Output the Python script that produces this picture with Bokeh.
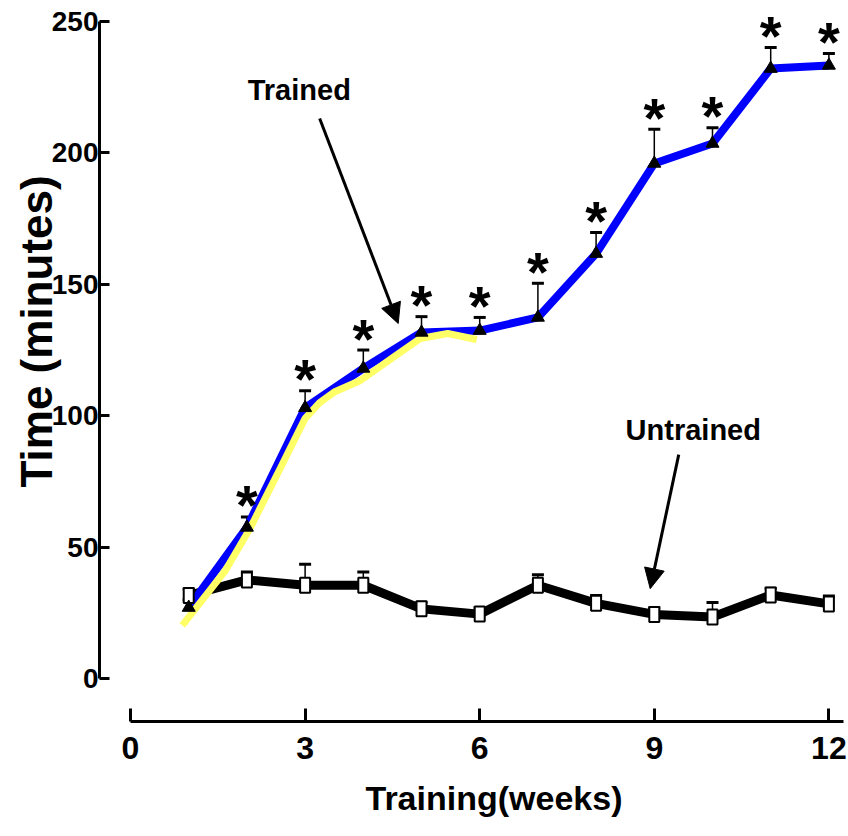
from bokeh.plotting import figure
from bokeh.models import (ColumnDataSource, Range1d, FixedTicker, Whisker, TeeHead,
                          Arrow, NormalHead, Label, Title)
from bokeh.core.properties import value
from bokeh.embed import file_html
from bokeh.resources import INLINE

# ---- data ----
weeks = [1, 2, 3, 4, 5, 6, 7, 8, 9, 10, 11, 12]
trained_mean = [27, 57.5, 103, 118, 131.7, 132.4, 137.4, 161.7, 196, 203.6, 232.1, 233.3]
trained_err = [3, 4, 6.5, 7, 6, 5, 13, 8, 13, 6, 8, 4.5]
trained_marks = ["", "*", "*", "*", "*", "*", "*", "*", "*", "*", "*", "*"]
untrained_mean = [31.6, 37.5, 35.5, 35.5, 26.5, 24.5, 35.5, 28.6, 24.4, 23.4, 31.8, 28.4]
untrained_err = [2.5, 3, 8, 5, 2.5, 2.5, 4, 3, 2.5, 5.5, 2.5, 3]
yellow_x = [0.89, 1.63, 2.05, 2.58, 3.0, 3.25, 3.5, 3.95, 4.5, 4.98, 5.45, 5.95]
yellow_y = [20.2, 41.1, 57.0, 80.3, 99.0, 105.0, 109.0, 113.4, 122.0, 129.4, 131.3, 129.0]
x_ticks = [0, 3, 6, 9, 12]
y_ticks = [0, 50, 100, 150, 200, 250]
x_title = "Training(weeks)"
y_title = "Time (minutes)"
labels_text = ["Trained", "Untrained"]
labels_x = [2.90, 9.67]
labels_y = [223.8, 94.4]
arrows_start_x = [3.25, 9.42]
arrows_start_y = [213.1, 85.2]
arrows_end_x = [4.60, 8.93]
arrows_end_y = [135.1, 34.2]

SANS = "Liberation Sans, Arial, sans-serif"

tr = ColumnDataSource(dict(x=weeks, y=trained_mean,
                           up=[m + e for m, e in zip(trained_mean, trained_err)],
                           mark=trained_marks))
un = ColumnDataSource(dict(x=weeks, y=untrained_mean,
                           up=[m + e for m, e in zip(untrained_mean, untrained_err)]))

p = figure(width=848, height=836,
           x_range=Range1d(-0.533, 12.337), y_range=Range1d(-16.36, 254.2),
           output_backend="svg", toolbar_location=None,
           min_border_left=99, min_border_right=0, min_border_top=10, min_border_bottom=115)
p.xgrid.visible = False
p.ygrid.visible = False
p.outline_line_color = None
p.background_fill_color = "white"

# axes
xa = p.xaxis[0]
xa.ticker = FixedTicker(ticks=x_ticks)
xa.bounds = (0, 12.25)
xa.axis_line_width = 3
xa.axis_line_color = "black"
xa.major_tick_line_width = 3
xa.major_tick_line_color = "black"
xa.major_tick_in = 13
xa.major_tick_out = 0
xa.minor_tick_line_color = None
xa.major_label_text_font = SANS
xa.major_label_text_font_style = "bold"
xa.major_label_text_font_size = "32px"
xa.major_label_text_color = "black"
xa.major_label_standoff = 15

ya = p.yaxis[0]
ya.ticker = FixedTicker(ticks=y_ticks)
ya.bounds = (0, 250)
ya.axis_line_width = 3
ya.axis_line_color = "black"
ya.major_tick_line_width = 3
ya.major_tick_line_color = "black"
ya.major_tick_in = 10
ya.major_tick_out = 0
ya.minor_tick_line_color = None
ya.major_label_text_font = SANS
ya.major_label_text_font_style = "bold"
ya.major_label_text_font_size = "28px"
ya.major_label_text_color = "black"
ya.major_label_standoff = 1

# axis titles (side titles so they can be placed like the reference)
yt = Title(text=y_title, align="left", offset=234, vertical_align="bottom",
           text_font=SANS, text_font_style="bold", text_font_size="44px", text_color="black")
try:
    yt.standoff = -24
except Exception:
    yt.standoff = 0
p.add_layout(yt, "left")
xt = Title(text=x_title, align="left", offset=266, vertical_align="top", standoff=34,
           text_font=SANS, text_font_style="bold", text_font_size="34px", text_color="black")
p.add_layout(xt, "below")

# error bars (upper only)
for src in (un, tr):
    w = Whisker(source=src, base="x", lower="y", upper="up", dimension="height",
                line_color="black", line_width=1.5, level="underlay",
                lower_head=None,
                upper_head=TeeHead(size=12, line_width=3, line_color="black"))
    p.add_layout(w)

# lines
p.line("x", "y", source=un, line_color="black", line_width=9, line_join="round")
p.line("x", "y", source=tr, line_color="#0000ff", line_width=8, line_join="round")
p.line(yellow_x, yellow_y, line_color="#ffff66", line_width=7, line_join="round")

# markers
p.rect("x", "y", source=un, width=10, height=15, width_units="screen", height_units="screen",
       fill_color="white", line_color="black", line_width=2)
p.scatter("x", "y", source=tr, marker="triangle", size=13, fill_color="black", line_color="black")

# significance stars
p.text("x", "up", text="mark", source=tr, text_font=value(SANS), text_font_style="bold",
       text_font_size="56px", text_align="center", text_baseline="alphabetic",
       y_offset=-12, text_color="black")

# annotations
for t, lx, ly in zip(labels_text, labels_x, labels_y):
    p.add_layout(Label(x=lx, y=ly, text=t, text_font=SANS, text_font_style="bold",
                       text_font_size="29px", text_align="center", text_baseline="alphabetic",
                       text_color="black"))
for sx, sy, ex, ey in zip(arrows_start_x, arrows_start_y, arrows_end_x, arrows_end_y):
    p.add_layout(Arrow(x_start=sx, y_start=sy, x_end=ex, y_end=ey, line_width=3,
                       line_color="black",
                       end=NormalHead(size=20, fill_color="black", line_color="black")))

open("out.html", "w").write(file_html(p, INLINE))
